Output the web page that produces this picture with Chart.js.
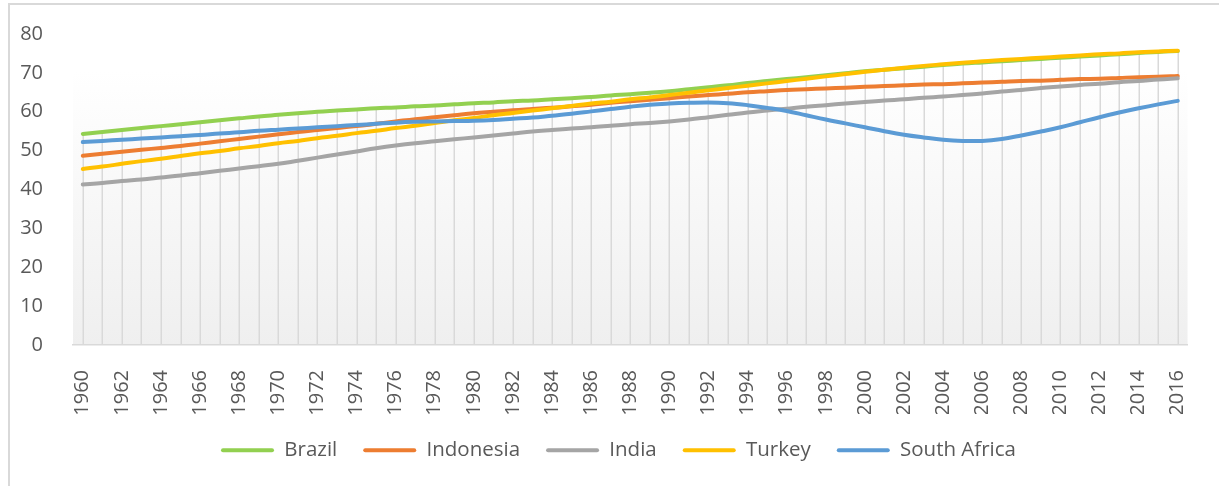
<!DOCTYPE html>
<html>
<head>
<meta charset="utf-8">
<script src="https://cdn.jsdelivr.net/npm/chart.js@4"></script>
<style>
    html, body { margin: 0; padding: 0; background: #fff; }
    body { width: 1219px; height: 486px; position: relative; overflow: hidden; }
    .frame {
        position: absolute; left: 8px; top: 3px; right: -2px; bottom: -2px;
        border-left: 2px solid #d9d9d9; border-top: 2px solid #d9d9d9;
    }
    #wrap { position: absolute; left: 0; top: 0; width: 1219px; height: 486px; }
</style>
</head>
<body>
<div class="frame"></div>
<div id="wrap"><canvas id="chart"></canvas></div>
<script>
// Categories: 1960 .. 2016
const years = [
    '1960','1961','1962','1963','1964','1965','1966','1967','1968','1969',
    '1970','1971','1972','1973','1974','1975','1976','1977','1978','1979',
    '1980','1981','1982','1983','1984','1985','1986','1987','1988','1989',
    '1990','1991','1992','1993','1994','1995','1996','1997','1998','1999',
    '2000','2001','2002','2003','2004','2005','2006','2007','2008','2009',
    '2010','2011','2012','2013','2014','2015','2016'
];

// Values
const brazil = [
    54.3, 54.8, 55.3, 55.8, 56.3, 56.8, 57.3, 57.8, 58.3, 58.8,
    59.2, 59.6, 60.0, 60.3, 60.6, 60.9, 61.1, 61.4, 61.6, 61.9,
    62.2, 62.4, 62.7, 62.9, 63.2, 63.5, 63.8, 64.2, 64.5, 64.9,
    65.3, 65.8, 66.3, 66.8, 67.4, 67.9, 68.4, 68.9, 69.4, 69.9,
    70.4, 70.8, 71.2, 71.6, 72.0, 72.4, 72.7, 73.0, 73.3, 73.6,
    73.9, 74.2, 74.5, 74.8, 75.1, 75.4, 75.6
];
const indonesia = [
    48.7, 49.2, 49.7, 50.2, 50.7, 51.2, 51.8, 52.4, 53.0, 53.6,
    54.2, 54.8, 55.3, 55.8, 56.3, 56.9, 57.5, 58.1, 58.6, 59.1,
    59.6, 60.0, 60.4, 60.7, 61.0, 61.4, 61.8, 62.3, 62.7, 63.1,
    63.5, 63.9, 64.3, 64.6, 65.0, 65.3, 65.6, 65.8, 66.0, 66.2,
    66.4, 66.6, 66.8, 67.0, 67.1, 67.3, 67.5, 67.7, 67.9, 68.0,
    68.2, 68.4, 68.5, 68.7, 68.9, 69.0, 69.2
];
const india = [
    41.3, 41.7, 42.2, 42.6, 43.1, 43.6, 44.2, 44.8, 45.4, 46.0,
    46.6, 47.4, 48.2, 49.0, 49.8, 50.6, 51.3, 51.9, 52.4, 52.9,
    53.4, 53.9, 54.4, 54.9, 55.3, 55.7, 56.0, 56.4, 56.8, 57.1,
    57.5, 58.0, 58.6, 59.2, 59.8, 60.3, 60.8, 61.3, 61.7, 62.1,
    62.5, 62.9, 63.2, 63.6, 63.9, 64.3, 64.7, 65.2, 65.6, 66.1,
    66.5, 66.9, 67.2, 67.6, 67.9, 68.3, 68.6
];
const turkey = [
    45.3, 45.9, 46.6, 47.3, 47.9, 48.6, 49.3, 49.9, 50.6, 51.2,
    51.9, 52.5, 53.2, 53.8, 54.5, 55.1, 55.8, 56.4, 57.1, 57.8,
    58.4, 59.1, 59.7, 60.3, 60.9, 61.5, 62.1, 62.6, 63.2, 63.7,
    64.3, 64.9, 65.5, 66.1, 66.7, 67.3, 67.9, 68.5, 69.1, 69.7,
    70.3, 70.8, 71.3, 71.8, 72.2, 72.6, 73.0, 73.3, 73.6, 73.9,
    74.2, 74.5, 74.8, 75.0, 75.3, 75.5, 75.7
];
const southAfrica = [
    52.2, 52.5, 52.8, 53.1, 53.4, 53.7, 54.0, 54.4, 54.7, 55.1,
    55.4, 55.7, 56.0, 56.3, 56.6, 56.9, 57.2, 57.4, 57.5, 57.6,
    57.7, 57.9, 58.2, 58.5, 59.0, 59.5, 60.1, 60.7, 61.3, 61.8,
    62.1, 62.3, 62.4, 62.2, 61.7, 61.0, 60.2, 59.1, 58.0, 57.0,
    56.0, 55.0, 54.1, 53.4, 52.8, 52.5, 52.5, 53.0, 53.9, 54.9,
    56.0, 57.3, 58.6, 59.8, 60.9, 61.9, 62.8
];

const seriesNames = ['Brazil', 'Indonesia', 'India', 'Turkey', 'South Africa'];
const seriesColors = ['#92D050', '#ED7D31', '#A5A5A5', '#FFC000', '#5B9BD5'];
const seriesValues = [brazil, indonesia, india, turkey, southAfrica];

const FONT = "'Open Sans', 'Noto Sans', sans-serif";
const TEXT_COLOR = '#595959';

// Light gradient behind the plot area
const plotBackground = {
    id: 'plotBackground',
    beforeDraw(chart) {
        const { ctx, chartArea: a } = chart;
        const grad = ctx.createLinearGradient(0, a.top, 0, a.bottom);
        grad.addColorStop(0, '#ffffff');
        grad.addColorStop(0.12, '#ffffff');
        grad.addColorStop(1, '#efefef');
        ctx.save();
        ctx.fillStyle = grad;
        ctx.fillRect(a.left, a.top, a.right - a.left, a.bottom - a.top);
        ctx.restore();
    }
};

// Excel style drop lines: from the highest series down to the axis
const dropLines = {
    id: 'dropLines',
    beforeDatasetsDraw(chart) {
        const { ctx, scales: { x, y } } = chart;
        const datasets = chart.data.datasets;
        ctx.save();
        ctx.strokeStyle = '#d9d9d9';
        ctx.lineWidth = 1.5;
        chart.data.labels.forEach((label, i) => {
            const top = Math.max(...datasets.map(ds => ds.data[i]));
            const px = Math.round(x.getPixelForValue(i)) + 0.25;
            ctx.beginPath();
            ctx.moveTo(px, y.getPixelForValue(top));
            ctx.lineTo(px, y.getPixelForValue(0));
            ctx.stroke();
        });
        ctx.restore();
    }
};

// Legend sits a little right of the canvas centre in the reference
const legendShift = {
    id: 'legendShift',
    afterLayout(chart) {
        chart.legend.left += 22;
        chart.legend.right += 22;
    }
};

const datasets = seriesNames.map((name, i) => ({
    label: name,
    data: seriesValues[i],
    borderColor: seriesColors[i],
    backgroundColor: seriesColors[i],
    borderWidth: 4,
    borderCapStyle: 'round',
    pointRadius: 0,
    pointHoverRadius: 0,
    tension: 0.4,
    fill: false,
    order: seriesNames.length - i // last series drawn on top
}));

const ctx = document.getElementById('chart').getContext('2d');
new Chart(ctx, {
    type: 'line',
    data: { labels: years, datasets },
    options: {
        responsive: true,
        maintainAspectRatio: false,
        animation: false,
        layout: { padding: { top: 32, right: 26, bottom: 15.5, left: 0 } },
        plugins: {
            tooltip: { enabled: false },
            legend: {
                position: 'bottom',
                labels: {
                    font: { family: FONT, size: 20.5 },
                    color: TEXT_COLOR,
                    boxWidth: 53,
                    boxHeight: 4,
                    padding: 26,
                    sort: (a, b) => a.datasetIndex - b.datasetIndex,
                    generateLabels(chart) {
                        const items = Chart.defaults.plugins.legend.labels.generateLabels(chart);
                        items.forEach(item => {
                            item.lineWidth = 0;
                            item.borderRadius = 2;
                        });
                        return items;
                    }
                }
            }
        },
        scales: {
            x: {
                offset: true,
                grid: { display: false, offset: false },
                border: { display: true, color: '#d9d9d9', width: 1.5 },
                ticks: {
                    autoSkip: false,
                    minRotation: 90,
                    maxRotation: 90,
                    padding: 17,
                    color: TEXT_COLOR,
                    font: { family: FONT, size: 20 },
                    callback: function(value, index) {
                        return index % 2 === 0 ? this.getLabelForValue(value) : '';
                    }
                },
                afterFit(scale) { scale.height = 69; }
            },
            y: {
                min: 0,
                max: 80,
                grid: { display: false },
                border: { display: false },
                ticks: {
                    stepSize: 10,
                    padding: 22,
                    color: TEXT_COLOR,
                    font: { family: FONT, size: 20 }
                },
                afterFit(scale) { scale.width = 73; }
            }
        }
    },
    plugins: [plotBackground, dropLines, legendShift]
});
</script>
</body>
</html>
